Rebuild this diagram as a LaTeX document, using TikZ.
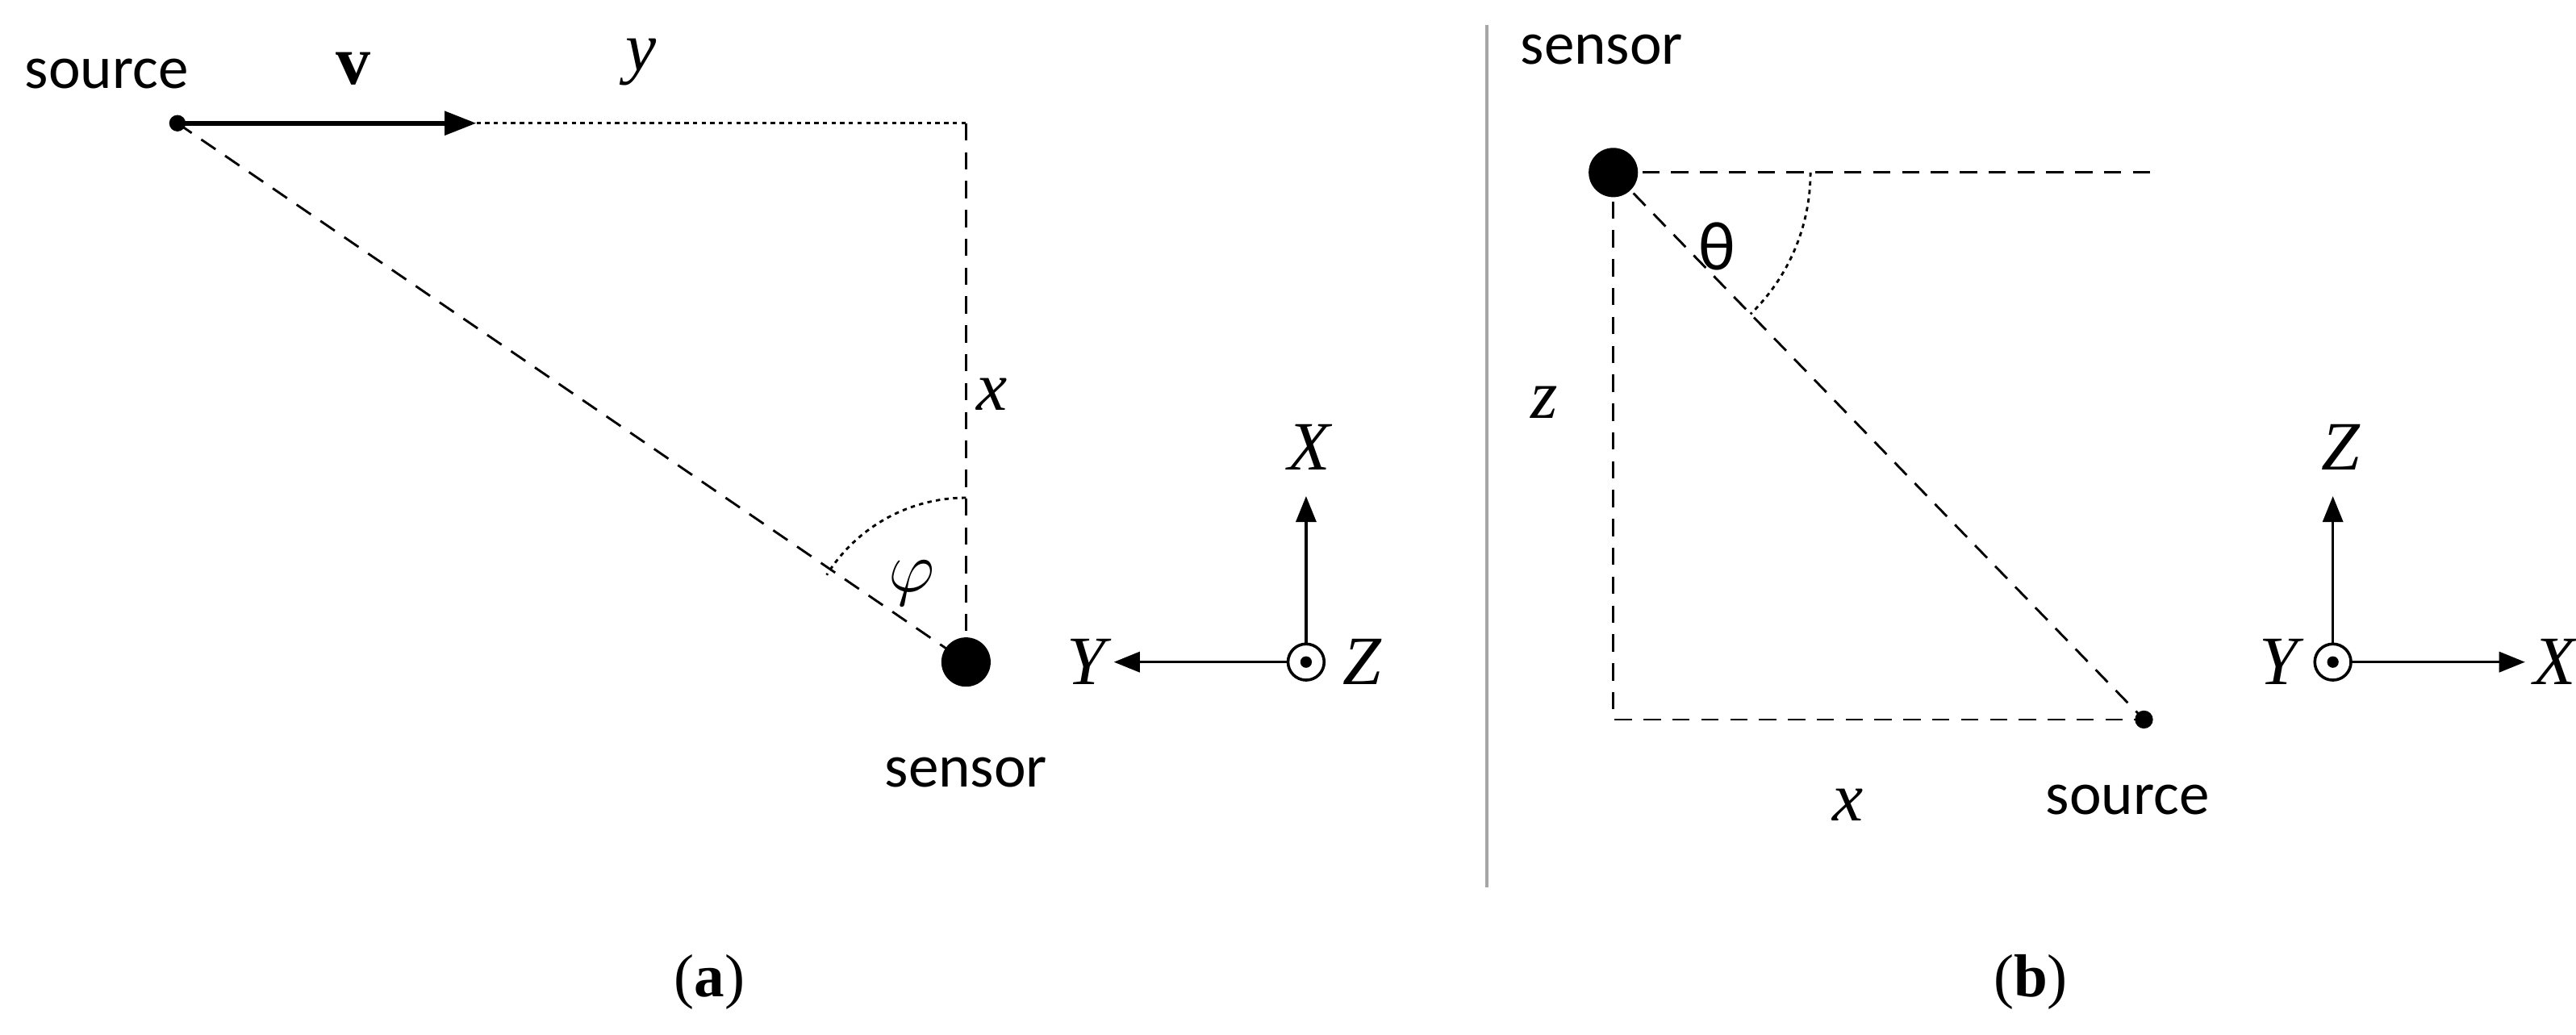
\documentclass[tikz,border=0pt]{standalone}
\usepackage{fontspec}
\setmainfont{Liberation Serif}
\setsansfont{Carlito}
\usetikzlibrary{arrows.meta}
\begin{document}
\begin{tikzpicture}[x=0.02cm,y=-0.02cm,
  lbl/.style={font=\sffamily\fontsize{21}{24}\selectfont},
  mth/.style={font=\itshape\fontsize{24}{28}\selectfont},
  capt/.style={font=\fontsize{21}{24}\selectfont},
  dsh/.style={dash pattern=on 6pt off 4pt, line width=0.8pt},
  dot/.style={dash pattern=on 1.5pt off 1.5pt, line width=0.8pt},
  ax/.style={line width=1pt,-{Triangle[length=9pt,width=7pt]}}]
\useasboundingbox (0,0) rectangle (1568,630);
% ---------- (a)
\fill (108,75) circle (5) coordinate (srcA);
\coordinate (vend) at (290,75);
\coordinate (corA) at (588,75);
\fill (588,403) circle (15);
\coordinate (senA) at (588,403);
\node[lbl] (lsrcA) at (65,45) {source};
\node[font=\bfseries\fontsize{24}{28}\selectfont] (lv) at (215,42) {v};
\draw[line width=1.8pt,-{Triangle[length=11pt,width=8pt]}] (srcA) -- (vend);
\draw[dot] (vend) -- (corA);
\draw[dsh] (corA) -- (senA);
\draw[dsh] (srcA) -- (senA);
\node[mth] (ly) at (390,38) {y};
\node[mth] (lx) at (604,240) {x};
\node[lbl] (lsenA) at (588,470) {sensor};
\draw[dot] ([shift={(-90:100)}]senA) arc[start angle=-90,end angle=-148,radius=100];
\node[font=\fontsize{28}{32}\selectfont] (lphi) at (555,355) {$\varphi$};
% axes a
\coordinate (oA) at (795,403);
\draw[line width=1pt] (oA) circle (11);
\fill (oA) circle (3.5);
\draw[ax] (795,392) -- (795,302);
\draw[ax] (784,403) -- (678,403);
\node[mth] (lXa) at (797,272) {X};
\node[mth] (lYa) at (661,403) {Y};
\node[mth] (lZa) at (829,403) {Z};
% divider
\draw[gray!70,line width=1pt] (905,15) -- (905,540);
\node[capt] (ca) at (432,598) {(\textbf{a})};
% ---------- (b)
\coordinate (senB) at (982,105);
\coordinate (srcB) at (1305,438);
\coordinate (cB) at (982,438);
\coordinate (hB) at (1310,105);
\draw[dsh] (senB) -- (hB);
\draw[dsh] (senB) -- (cB) -- (srcB);
\draw[dsh] (senB) -- (srcB);
\fill (senB) circle (15);
\fill (srcB) circle (5.5);
\node[lbl] (lsenB) at (975,30) {sensor};
\node[lbl] (lsrcB) at (1295,487) {source};
\draw[dot] ([shift={(0:120)}]senB) arc[start angle=0,end angle=45.9,radius=120];
\node[font=\sffamily\fontsize{24}{28}\selectfont] (lth) at (1045,150) {θ};
\node[mth] (lz) at (940,245) {z};
\node[mth] (lxb) at (1125,490) {x};
% axes b
\coordinate (oB) at (1420,403);
\draw[line width=1pt] (oB) circle (11);
\fill (oB) circle (3.5);
\draw[ax] (1420,392) -- (1420,302);
\draw[ax] (1431,403) -- (1537,403);
\node[mth] (lZb) at (1425,272) {Z};
\node[mth] (lXb) at (1555,403) {X};
\node[mth] (lYb) at (1387,403) {Y};
\node[capt] (cb) at (1236,598) {(\textbf{b})};
\end{tikzpicture}
\end{document}
